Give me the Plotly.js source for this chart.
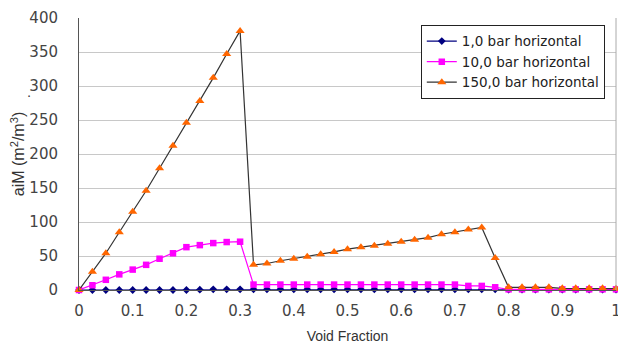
<!DOCTYPE html>
<html>
<head>
<meta charset="utf-8">
<script src="https://cdn.plot.ly/plotly-3.0.1.min.js"></script>
<style>html,body{margin:0;padding:0;background:#fff;}#chart{width:618px;height:345px;}</style>
</head>
<body>
<div id="chart"></div>
<script>
const voidFraction = [0,0.025,0.05,0.075,0.1,0.125,0.15,0.175,0.2,0.225,0.25,0.275,0.3,0.325,0.35,0.375,0.4,0.425,0.45,0.475,0.5,0.525,0.55,0.575,0.6,0.625,0.65,0.675,0.7,0.725,0.75,0.775,0.8,0.825,0.85,0.875,0.9,0.925,0.95,0.975,1];
const bar1 = [0,0,0,0,0,0,0,0,0,0.5,1,1,1,1,1,1,1,1,1,1,1,1,1,1,1,1,1,1,1,1,1,1,0.5,0.5,0.5,0.5,0.5,0.5,0.5,0.5,0.5];
const bar10 = [0,7,15,23,30,37,46,54,63,66,69,70.5,71,8,8,8,8,8,8,8,8,8,8,8,8,8,8,8,8,6,6,4,1,1,1,1,1,1,1,1,1];
const bar150 = [0,27,54,85,115,146,179,212,246,278,312,347,381,37,39,43,46,49,52.5,56,60,63,65,68,71,74,77,82,85,89,92,47,4,4,4,4,2.5,2.5,2.5,2.5,2];
const seriesNames = ["1,0 bar horizontal","10,0 bar horizontal","150,0 bar horizontal"];
const xTicks = [0,0.1,0.2,0.3,0.4,0.5,0.6,0.7,0.8,0.9,1];
const xTickText = ["0","0.1","0.2","0.3","0.4","0.5","0.6","0.7","0.8","0.9","1"];
const yTicks = [0,50,100,150,200,250,300,350,400];

const traces = [
  {x: voidFraction, y: bar1, name: seriesNames[0], mode: "lines+markers", cliponaxis: false,
   line: {color: "#000080", width: 1.2}, marker: {symbol: "diamond", size: 6, color: "#000080"}},
  {x: voidFraction, y: bar10, name: seriesNames[1], mode: "lines+markers", cliponaxis: false,
   line: {color: "#ff00ff", width: 1.2}, marker: {symbol: "square", size: 6.5, color: "#ff00ff"}},
  {x: voidFraction, y: bar150, name: seriesNames[2], mode: "lines+markers", cliponaxis: false,
   line: {color: "#333333", width: 1.2}, marker: {symbol: "triangle-up", size: 8, color: "#ff6600"}}
];

const layout = {
  width: 618, height: 345,
  margin: {l: 79, r: 2, t: 17.5, b: 55, pad: 0},
  paper_bgcolor: "#fff", plot_bgcolor: "#fff",
  font: {family: "DejaVu Sans, sans-serif", color: "#333", size: 14},
  showlegend: true,
  legend: {x: 0.6365, y: 0.975, xanchor: "left", yanchor: "top", bgcolor: "#fff",
           bordercolor: "#222", borderwidth: 1, font: {size: 13.5, color: "#222"}, tracegroupgap: 0,
           itemwidth: 30},
  xaxis: {range: [0, 1], tickvals: xTicks, ticktext: xTickText, showgrid: false, zeroline: false,
          showline: true, linecolor: "#555", linewidth: 1, mirror: false,
          ticks: "", ticklabelstandoff: 7, ticklabeloverflow: "allow",
          tickfont: {size: 15, color: "#444"},
          title: {text: "Void Fraction", font: {size: 14, color: "#333", family: "Liberation Sans, Arial, sans-serif"}, standoff: 12}},
  yaxis: {range: [0, 400], tickvals: yTicks, showgrid: true, gridcolor: "#c8c8c8", gridwidth: 1,
          zeroline: false, showline: true, linecolor: "#555", linewidth: 1,
          ticks: "", ticklabelstandoff: 17,
          tickfont: {size: 15, color: "#444"},
          title: {text: "aiM (m<sup>2</sup>/m<sup>3</sup>)", font: {size: 16, color: "#333", family: "Liberation Sans, Arial, sans-serif"}, standoff: 0}},
  shapes: [
    {type: "line", xref: "paper", yref: "paper", x0: 1, x1: 1, y0: 0, y1: 1, line: {color: "#aaa", width: 1}}
  ],
  annotations: [
    {text: ".", xref: "paper", yref: "paper", x: -0.1, y: 0.76, showarrow: false, font: {size: 13, color: "#333"}}
  ]
};
Plotly.newPlot("chart", traces, layout, {displayModeBar: false, staticPlot: true});
</script>
</body>
</html>
